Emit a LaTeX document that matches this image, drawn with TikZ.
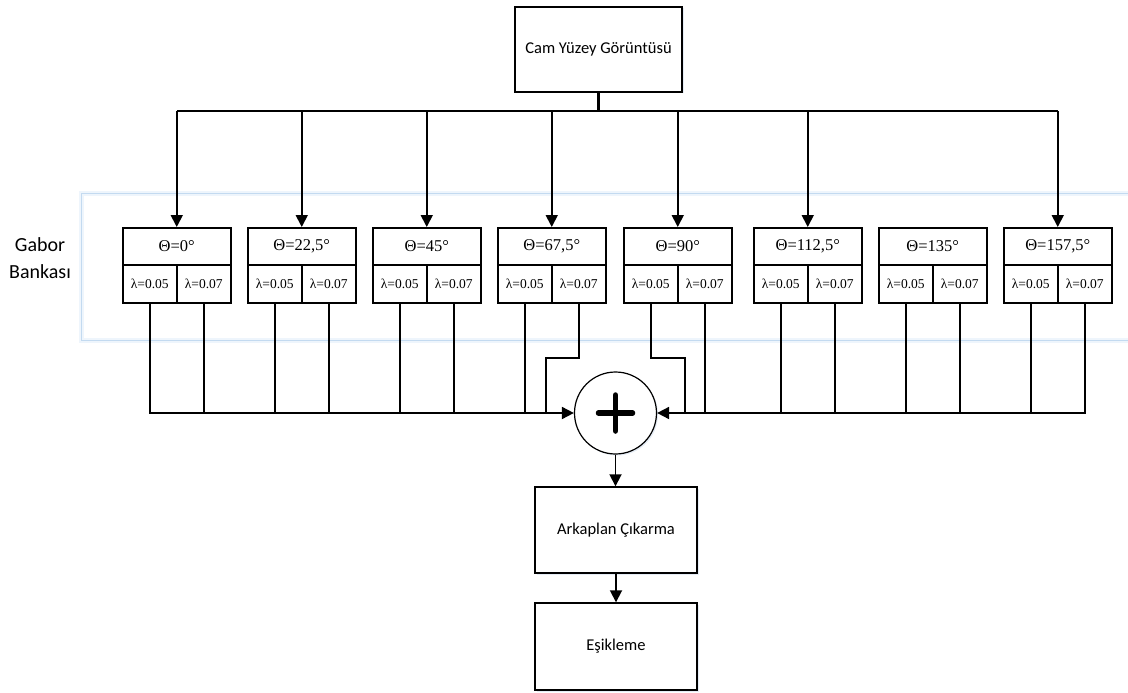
\documentclass[tikz,border=0pt]{standalone}
\usepackage{fontspec}
\setmainfont{Carlito}
\newfontfamily\grk{Liberation Serif}
\usetikzlibrary{arrows.meta,shadows}
\definecolor{framebl}{RGB}{195,218,240}
\definecolor{framehalo}{RGB}{238,245,252}
\definecolor{shadowbl}{RGB}{150,180,215}
\begin{document}
\begin{tikzpicture}[x=1pt,y=-1pt,
  conn/.style={line width=1.8pt},
  arr/.style={conn,-{Triangle[length=12pt,width=12pt]}},
  soft/.style={drop shadow={shadow xshift=1.5pt,shadow yshift=-1.5pt,fill=shadowbl,opacity=0.25}},
  blk/.style={draw,line width=1.4pt,fill=white,soft,inner sep=0pt,
    minimum width=#1,minimum height=86pt,font=\fontsize{16.5}{19}\selectfont},
  hdr/.style={draw,line width=1.5pt,fill=white,soft,inner sep=0pt,anchor=north west,
    minimum width=108pt,minimum height=37pt,font=\grk\fontsize{16.5}{18}\selectfont},
  cell/.style={draw,line width=1.5pt,fill=white,soft,inner sep=0pt,anchor=north west,
    minimum width=54pt,minimum height=38pt,font=\grk\fontsize{13.5}{15}\selectfont}
]
\useasboundingbox (0,0) rectangle (1128,693);

% frame of the filter bank
\draw[framehalo,line width=5pt] (81,193) rectangle (1140,340);
\draw[framebl,line width=1pt] (81,193) rectangle (1140,340);
\node[align=center,font=\fontsize{20}{27}\selectfont] (lbl) at (40,258) {Gabor\\Bankası};

% input image
\node[blk=167pt,minimum height=85pt] (top) at (598.5,49.5) {Cam Yüzey Görüntüsü};

% Gabor filters: orientation header and two wavelength cells
\foreach \i/\x/\t in {1/122/0,2/247/{22,5},3/372/45,4/497/{67,5},5/623/90,6/753/{112,5},7/878/135,8/1003/{157,5}}{
  \node[hdr] (h\i) at (\x,227) {Θ=\t°};
  \node[cell] (a\i) at (\x,264) {λ=0.05};
  \node[cell] (b\i) at (\x+54,264) {λ=0.07};
}

% summation
\node[circle,draw,line width=1.2pt,minimum size=82pt,fill=white,inner sep=0pt,soft] (sum) at (615.5,413) {};
\draw[line width=5.5pt,line cap=round] ([xshift=-17pt]sum.center) -- ([xshift=17pt]sum.center);
\draw[line width=5.5pt,line cap=round] ([yshift=-18pt]sum.center) -- ([yshift=18pt]sum.center);

% post-processing
\node[blk=162pt] (ark) at (616,530) {Arkaplan Çıkarma};
\node[blk=162pt,minimum height=87pt] (esik) at (616,646.5) {Eşikleme};

% distribution bus from the input image
\coordinate (bus) at (598.5,111);
\draw[line width=2.6pt] (top.south) -- (bus);
\draw[conn] (h1.north |- bus) -- (h8.north |- bus);
\foreach \n in {1,2,3,4,5,6,8}
  \draw[arr] (h\n.north |- bus) -- (h\n.north);

% collection bus into the summation
\coordinate (j4) at (546,358);
\coordinate (j5) at (685,358);
\draw[arr] (a1.south) |- (sum.west);
\foreach \n in {b1,a2,b2,a3,b3,a4}
  \draw[conn] (\n.south) -- (\n.south |- sum.west);
\draw[conn] (b4.south) |- (j4) -- (j4 |- sum.west);
\draw[arr] (b8.south) |- (sum.east);
\foreach \n in {b5,a6,b6,a7,b7,a8}
  \draw[conn] (\n.south) -- (\n.south |- sum.east);
\draw[conn] (a5.south) |- (j5) -- (j5 |- sum.east);

% downstream chain
\draw[arr] (sum.south) -- (sum.south |- ark.north);
\draw[arr] (ark.south) -- (ark.south |- esik.north);
\end{tikzpicture}
\end{document}
